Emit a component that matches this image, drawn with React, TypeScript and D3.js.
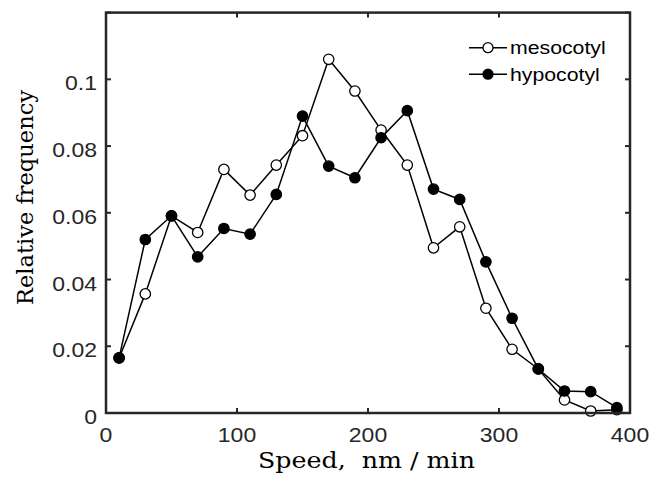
import React from "react";
import * as d3 from "d3";

const speeds = [10, 30, 50, 70, 90, 110, 130, 150, 170, 190, 210, 230, 250, 270, 290, 310, 330, 350, 370, 390];
const mesocotyl = [0.0165, 0.0357, 0.0591, 0.0541, 0.073, 0.0653, 0.0743, 0.0831, 0.106, 0.0965, 0.0848, 0.0743, 0.0495, 0.0558, 0.0314, 0.0191, 0.0132, 0.0039, 0.0006, 0.001];
const hypocotyl = [0.0165, 0.052, 0.0591, 0.0468, 0.0553, 0.0536, 0.0655, 0.089, 0.074, 0.0705, 0.0825, 0.0906, 0.0671, 0.064, 0.0453, 0.0284, 0.0132, 0.0066, 0.0064, 0.0016];
const xTicks = [0, 100, 200, 300, 400];
const yTicks = [0, 0.02, 0.04, 0.06, 0.08, 0.1];
const yTickMarks = [0, 0.02, 0.04, 0.06, 0.08, 0.1, 0.12];
const seriesNames = ["mesocotyl", "hypocotyl"];

const W = 649, H = 479;
const L = 106, R = 630, T = 12.6, B = 413;
const axisColor = "#262626";
const SX = 1.15;
const sans = "'Liberation Sans', Arial, sans-serif";
const serif = "'DejaVu Serif', serif";

export default function App() {
  const x = d3.scaleLinear().domain([0, 400]).range([L, R]);
  const y = d3.scaleLinear().domain([0, 0.12]).range([B, T]);
  const line = d3.line<number>().x((_, i) => x(speeds[i])).y((d) => y(d));
  const series = [
    { name: seriesNames[0], values: mesocotyl, fill: "#fff" },
    { name: seriesNames[1], values: hypocotyl, fill: "#000" },
  ];
  const tick = 5;
  return (
    <svg width={W} height={H} style={{ position: "absolute", left: 0, top: 0 }} xmlns="http://www.w3.org/2000/svg">
      <rect x={0} y={0} width={W} height={H} fill="#fff" />
      {series.map((s) => (
        <g key={s.name}>
          <path d={line(s.values) || ""} fill="none" stroke="#000" strokeWidth={1.5} />
          {s.values.map((v, i) => (
            <circle key={i} cx={x(speeds[i])} cy={y(v)} r={5.2} fill={s.fill} stroke="#000" strokeWidth={1.3} />
          ))}
        </g>
      ))}
      <rect x={L} y={T} width={R - L} height={B - T} fill="none" stroke={axisColor} strokeWidth={2.5} />
      {xTicks.map((t) => (
        <g key={"x" + t}>
          <line x1={x(t)} x2={x(t)} y1={B} y2={B - tick} stroke={axisColor} strokeWidth={2} />
          <line x1={x(t)} x2={x(t)} y1={T} y2={T + tick} stroke={axisColor} strokeWidth={2} />
          <text transform={`translate(${x(t)},442) scale(${SX},1)`} textAnchor="middle" fontFamily={sans} fontSize={20} fill={axisColor}>
            {String(t)}
          </text>
        </g>
      ))}
      {yTickMarks.map((t) => (
        <g key={"y" + t}>
          <line x1={L} x2={L + tick} y1={y(t)} y2={y(t)} stroke={axisColor} strokeWidth={2} />
          <line x1={R} x2={R - tick} y1={y(t)} y2={y(t)} stroke={axisColor} strokeWidth={2} />
        </g>
      ))}
      {yTicks.map((t) => (
        <text key={"yl" + t} transform={`translate(97,${y(t) + 11}) scale(${SX},1)`} textAnchor="end" fontFamily={sans} fontSize={20} fill={axisColor}>
          {t === 0 ? "0" : String(+t.toFixed(2))}
        </text>
      ))}
      <text x={366.5} y={468} textAnchor="middle" fontFamily={serif} fontSize={22} fill="#000" textLength={217} lengthAdjust="spacingAndGlyphs" style={{ whiteSpace: "pre" }}>
        {"Speed,  nm / min"}
      </text>
      <text transform={`translate(33,197.5) rotate(-90)`} textAnchor="middle" fontFamily={serif} fontSize={22} fill="#000" textLength={215} lengthAdjust="spacingAndGlyphs">
        Relative frequency
      </text>
      {series.map((s, i) => {
        const ly = 47.7 + i * 26.5;
        return (
          <g key={"leg" + s.name}>
            <line x1={469} x2={507} y1={ly} y2={ly} stroke="#000" strokeWidth={1.5} />
            <circle cx={488} cy={ly} r={5} fill={s.fill} stroke="#000" strokeWidth={1.3} />
            <text transform={`translate(510,${ly + 6.5}) scale(${SX},1)`} fontFamily={sans} fontSize={18.5} fill="#000">
              {s.name}
            </text>
          </g>
        );
      })}
    </svg>
  );
}
